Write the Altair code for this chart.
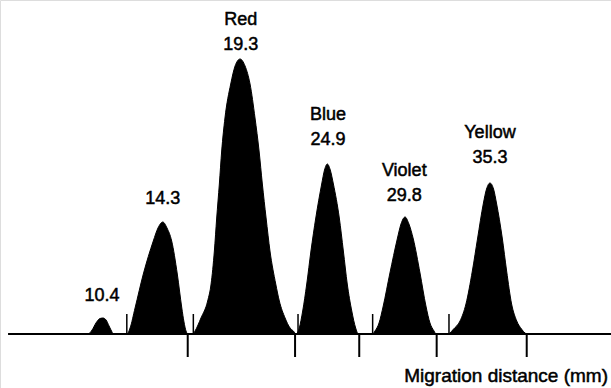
import altair as alt
import pandas as pd

# Densitometer trace: migration distance (mm) and signal height (arbitrary units)
trace_mm = [4.37, 9.50, 9.76, 10.01, 10.27, 10.46, 10.66, 10.85, 11.04, 11.11,
            12.00, 12.20, 12.52, 13.05, 13.69, 13.99, 14.30, 14.57, 14.87, 15.23, 15.52, 15.66, 15.79, 15.92,
            16.24, 16.37, 16.75, 17.18, 17.40, 17.61, 17.76, 17.93, 18.08, 18.29, 18.66, 18.94, 19.26,
            19.58, 19.90, 20.22, 20.48, 20.69, 20.93, 21.18, 21.55, 21.78, 22.15, 22.47, 22.68, 22.85,
            23.06, 23.28, 23.54, 23.81, 24.12, 24.50, 24.68, 24.86, 25.05, 25.25, 25.63, 25.89, 26.14,
            26.43, 26.68, 26.85,
            27.76, 27.92, 28.18, 28.45, 28.88, 29.35, 29.59, 29.85, 30.10, 30.38, 30.81, 31.19, 31.45,
            31.71, 31.84,
            32.61, 32.73, 32.95, 33.38, 33.76, 34.17, 34.51, 34.87, 35.08, 35.30, 35.53, 35.73, 36.09,
            36.37, 36.69, 37.02, 37.34, 37.55, 37.68, 43.07]
trace_h = [0, 0, 4, 11, 15.5, 16, 14, 8, 2, 0,
           0, 6, 26, 60, 93, 106, 112, 106, 93, 60, 26, 12, 3, 0,
           0, 3, 16, 33, 50, 83, 116, 150, 183, 216, 250, 268, 275,
           268, 250, 216, 183, 150, 116, 83, 50, 33, 16, 6, 3, 0,
           6, 23, 50, 83, 116, 150, 164, 170, 164, 150, 116, 83, 50,
           23, 6, 0,
           0, 3, 11, 28, 61, 95, 110, 117, 110, 95, 61, 28, 11,
           3, 0,
           0, 1, 4.7, 13, 30, 63, 96, 130, 145, 151, 145, 130, 96,
           63, 30, 13, 4.7, 1, 0, 0]

peak_mm = [10.4, 14.3, 19.3, 24.9, 29.8, 35.3]
peak_labels = ["10.4", "14.3", "19.3", "24.9", "29.8", "35.3"]
peak_names = ["", "", "Red", "Blue", "Violet", "Yellow"]
label_h = [38, 135, 289, 194, 138, 176]

upper_ticks_mm = [11.99, 16.26, 22.98, 27.77, 32.67]
lower_ticks_mm = [15.90, 22.79, 26.91, 31.88, 37.66]
baseline_mm = [4.37, 43.07]

trace = pd.DataFrame({"mm": trace_mm, "h": trace_h})
labels = pd.DataFrame({"mm": peak_mm, "num": peak_labels, "name": peak_names, "h": label_h})
upper = pd.DataFrame({"mm": upper_ticks_mm, "y0": [0] * 5, "y1": [20] * 5})
lower = pd.DataFrame({"mm": lower_ticks_mm, "y0": [0] * 5, "y1": [-23] * 5})
base = pd.DataFrame({"x0": [baseline_mm[0]], "x1": [baseline_mm[1]], "y": [0]})

xs = alt.Scale(domain=[3.85, 43.07], nice=False, zero=False)
ys = alt.Scale(domain=[-54, 334], nice=False, zero=False)
FONT = "Liberation Sans"

area = alt.Chart(trace).mark_area(color="black", opacity=1, fillOpacity=1, interpolate="monotone",
                                  line={"color": "black", "strokeWidth": 1}).encode(
    x=alt.X("mm:Q", scale=xs, axis=None),
    y=alt.Y("h:Q", scale=ys, axis=None),
)

baseline = alt.Chart(base).mark_rule(color="black", strokeWidth=2).encode(
    x=alt.X("x0:Q", scale=xs, axis=None), x2="x1:Q",
    y=alt.Y("y:Q", scale=ys, axis=None),
)

up = alt.Chart(upper).mark_rule(color="black", strokeWidth=1.5).encode(
    x=alt.X("mm:Q", scale=xs, axis=None),
    y=alt.Y("y0:Q", scale=ys, axis=None), y2="y1:Q",
)
low = alt.Chart(lower).mark_rule(color="black", strokeWidth=2).encode(
    x=alt.X("mm:Q", scale=xs, axis=None),
    y=alt.Y("y0:Q", scale=ys, axis=None), y2="y1:Q",
)

text_style = dict(font=FONT, fontSize=18, color="black", stroke="black", strokeWidth=0.5,
                  baseline="middle", align="center")

nums = alt.Chart(labels).mark_text(**text_style).encode(
    x=alt.X("mm:Q", scale=xs, axis=None),
    y=alt.Y("h:Q", scale=ys, axis=None),
    text="num:N",
)
names = alt.Chart(labels).mark_text(dy=-25, **text_style).encode(
    x=alt.X("mm:Q", scale=xs, axis=None),
    y=alt.Y("h:Q", scale=ys, axis=None),
    text="name:N",
)

title = alt.Chart(pd.DataFrame({"t": ["Migration distance (mm)"]})).mark_text(
    font=FONT, fontSize=19, color="black", stroke="black", strokeWidth=0.5,
    align="right", baseline="middle"
).encode(x=alt.value(608), y=alt.value(376), text="t:N")

chart = alt.layer(area, baseline, up, low, nums, names, title).properties(
    width=611, height=388, padding=0, autosize=alt.AutoSizeParams(type="none")
).configure_view(stroke=None).configure(background="white")

chart.save("out.html", embed_options={"renderer": "svg", "actions": False})
